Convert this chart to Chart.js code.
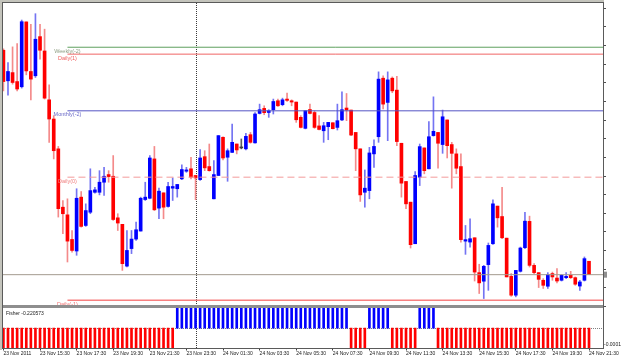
<!DOCTYPE html>
<html>
<head>
<meta charset="utf-8">
<script src="https://cdn.jsdelivr.net/npm/chart.js@4/dist/chart.umd.min.js"></script>
<style>
  html, body { margin: 0; padding: 0; background: #fff; }
</style>
</head>
<body>
<canvas id="chart" width="625" height="360"></canvas>
<script>
// 15 minute candles, 23 Nov 2011 13:30 -> 24 Nov 2011 21:30
const opens = [1.34775,1.34611,1.34655,1.34607,1.34579,1.34927,1.34661,1.34638,1.34848,1.34771,
  1.34509,1.34406,1.34246,1.33933,1.33892,1.33760,1.33698,1.33987,1.33835,1.33906,
  1.34013,1.34013,1.34067,1.34108,1.34099,1.33876,1.33841,1.33617,1.33711,1.33762,
  1.33805,1.33974,1.33981,1.34192,1.33928,1.34010,1.33937,1.34035,1.34032,1.34085,
  1.34126,1.34139,1.34103,1.34081,1.34204,1.34151,1.33978,1.34103,1.34308,1.34201,
  1.34227,1.34272,1.34251,1.34246,1.34322,1.34278,1.34436,1.34463,1.34441,1.34456,
  1.34504,1.34483,1.34513,1.34504,1.34497,1.34415,1.34356,1.34457,1.34441,1.34369,
  1.34343,1.34365,1.34386,1.34361,1.34401,1.34465,1.34454,1.34334,1.34246,1.34013,
  1.34022,1.34219,1.34311,1.34625,1.34495,1.34625,1.34561,1.34276,1.34071,1.33960,
  1.33737,1.34094,1.34251,1.34139,1.34317,1.34334,1.34269,1.34401,1.34269,1.34219,
  1.34151,1.33751,1.33746,1.33769,1.33582,1.33536,1.33625,1.33737,1.33939,1.33883,
  1.33767,1.33562,1.33461,1.33589,1.33716,1.33857,1.33621,1.33582,1.33541,1.33509,
  1.33577,1.33553,1.33541,1.33555,1.33568,1.33555,1.33510,1.33541,1.33643];
const highs = [1.34782,1.34709,1.34793,1.34811,1.34937,1.34927,1.34914,1.34971,1.34914,1.34888,
  1.34590,1.34424,1.34259,1.33969,1.33978,1.33808,1.34032,1.34017,1.33951,1.34139,
  1.34040,1.34129,1.34147,1.34129,1.34210,1.33898,1.33841,1.33808,1.33808,1.33853,
  1.33987,1.34067,1.34210,1.34259,1.34035,1.34010,1.34067,1.34090,1.34055,1.34160,
  1.34147,1.34201,1.34103,1.34242,1.34236,1.34272,1.34183,1.34317,1.34311,1.34246,
  1.34379,1.34272,1.34299,1.34329,1.34334,1.34441,1.34486,1.34477,1.34456,1.34513,
  1.34513,1.34518,1.34545,1.34509,1.34497,1.34424,1.34450,1.34486,1.34450,1.34424,
  1.34388,1.34388,1.34386,1.34486,1.34552,1.34543,1.34454,1.34334,1.34246,1.34133,
  1.34254,1.34294,1.34659,1.34638,1.34659,1.34632,1.34635,1.34276,1.34071,1.33960,
  1.34124,1.34272,1.34251,1.34392,1.34525,1.34334,1.34454,1.34401,1.34281,1.34246,
  1.34219,1.33835,1.33871,1.33769,1.33627,1.33621,1.33741,1.33973,1.33939,1.34040,
  1.33767,1.33577,1.33594,1.33719,1.33906,1.33885,1.33630,1.33582,1.33550,1.33582,
  1.33585,1.33604,1.33571,1.33582,1.33589,1.33559,1.33541,1.33666,1.33643];
const lows = [1.34557,1.34534,1.34593,1.34557,1.34572,1.34643,1.34508,1.34629,1.34727,1.34513,
  1.34281,1.34192,1.33880,1.33791,1.33639,1.33692,1.33675,1.33826,1.33830,1.33898,
  1.34008,1.33999,1.33996,1.34067,1.33862,1.33808,1.33594,1.33612,1.33684,1.33755,
  1.33805,1.33969,1.33978,1.33915,1.33871,1.33871,1.33933,1.33969,1.33987,1.34081,
  1.34120,1.34085,1.33973,1.34076,1.34129,1.34126,1.33978,1.34103,1.34187,1.34072,
  1.34226,1.34219,1.34246,1.34240,1.34276,1.34276,1.34433,1.34429,1.34415,1.34433,
  1.34473,1.34477,1.34500,1.34477,1.34388,1.34358,1.34353,1.34433,1.34356,1.34347,
  1.34281,1.34295,1.34353,1.34347,1.34397,1.34397,1.34317,1.34129,1.33964,1.33933,
  1.33978,1.34147,1.34281,1.34460,1.34290,1.34547,1.34263,1.33987,1.33925,1.33714,
  1.33737,1.34049,1.34112,1.34139,1.34314,1.34142,1.34222,1.34197,1.34035,1.34112,
  1.33746,1.33680,1.33719,1.33537,1.33470,1.33443,1.33487,1.33734,1.33826,1.33764,
  1.33559,1.33455,1.33452,1.33585,1.33711,1.33612,1.33577,1.33502,1.33497,1.33497,
  1.33541,1.33527,1.33537,1.33550,1.33550,1.33514,1.33487,1.33537,1.33571];
const closes = [1.34607,1.34661,1.34602,1.34567,1.34928,1.34664,1.34620,1.34834,1.34775,1.34518,
  1.34406,1.34236,1.33925,1.33898,1.33751,1.33701,1.33981,1.33830,1.33915,1.34022,
  1.34026,1.34067,1.34099,1.34097,1.33867,1.33848,1.33630,1.33701,1.33762,1.33812,
  1.33981,1.33987,1.34197,1.33919,1.34019,1.33933,1.34044,1.34044,1.34055,1.34135,
  1.34133,1.34094,1.34090,1.34197,1.34144,1.34129,1.34108,1.34317,1.34197,1.34236,
  1.34281,1.34240,1.34251,1.34313,1.34281,1.34433,1.34456,1.34440,1.34450,1.34500,
  1.34477,1.34509,1.34506,1.34497,1.34402,1.34361,1.34450,1.34436,1.34361,1.34350,
  1.34370,1.34388,1.34354,1.34397,1.34456,1.34454,1.34320,1.34246,1.33999,1.34035,
  1.34224,1.34259,1.34620,1.34486,1.34616,1.34557,1.34285,1.34062,1.33951,1.33732,
  1.34103,1.34258,1.34129,1.34311,1.34340,1.34276,1.34418,1.34263,1.34222,1.34142,
  1.33759,1.33759,1.33764,1.33585,1.33527,1.33616,1.33728,1.33951,1.33876,1.33769,
  1.33559,1.33461,1.33594,1.33714,1.33858,1.33621,1.33582,1.33546,1.33514,1.33571,
  1.33559,1.33537,1.33568,1.33562,1.33555,1.33520,1.33532,1.33657,1.33571];

// Fisher histogram (far outside the sub window range, so every bar is clipped)
const fisher = [-0.85,-0.92,-0.97,-1.04,-0.88,-0.79,-0.83,-0.71,-0.76,-0.95,
  -1.21,-1.48,-1.77,-2.03,-2.21,-2.34,-2.12,-1.96,-1.83,-1.61,
  -1.42,-1.23,-1.05,-0.98,-1.10,-1.19,-1.37,-1.28,-1.15,-0.99,
  -0.81,-0.66,-0.52,-0.47,-0.38,-0.29,-0.18,-0.07,
  0.06,0.17,0.29,0.41,0.50,0.62,0.71,0.85,0.93,1.02,
  1.14,1.22,1.35,1.41,1.52,1.63,1.77,1.86,1.94,2.05,
  2.11,2.02,1.91,1.84,1.76,1.69,1.55,1.43,1.31,1.20,
  1.12,1.03,0.91,0.78,0.64,0.49,0.31,0.12,
  -0.09,-0.27,-0.44,-0.21,
  0.05,0.22,0.48,0.61,0.39,
  -0.08,-0.31,-0.57,-0.83,-0.96,-0.42,
  0.04,0.19,0.33,0.15,
  -0.11,-0.18,-0.26,-0.35,-0.58,-0.79,-0.94,-1.16,-1.39,-1.55,
  -1.41,-1.27,-1.12,-1.23,-1.44,-1.62,-1.71,-1.58,-1.36,-1.29,
  -1.37,-1.45,-1.52,-1.48,-1.33,-1.21,-1.08,-0.97,-0.89,-0.81,
  -0.76,-0.69,-0.41,-0.220573];
const fisherTitle = "Fisher -0.220573";

const timeTickIndex = [0,8,16,24,32,40,48,56,64,72,80,88,96,104,112,120,128];
const timeTickLabels = ["23 Nov 2011","23 Nov 15:30","23 Nov 17:30","23 Nov 19:30","23 Nov 21:30",
  "23 Nov 23:30","24 Nov 01:30","24 Nov 03:30","24 Nov 05:30","24 Nov 07:30","24 Nov 09:30",
  "24 Nov 11:30","24 Nov 13:30","24 Nov 15:30","24 Nov 17:30","24 Nov 19:30","24 Nov 21:30"];
const priceTicks = [1.350,1.349,1.348,1.347,1.346,1.345,1.344,1.343,1.342,1.341,
  1.340,1.339,1.338,1.337,1.336,1.335,1.334];
const fisherTicks = [-0.0001];
const fisherTickLabels = ["-0.0001"];

// pivot levels drawn from 23 Nov 17:00 to the right edge
const levelNames = ["Weekly(-2)", "Daily(1)", "Monthly(-2)", "Daily(0)", "Daily(-1)"];
const levelValues = [1.34791, 1.34754, 1.34450, 1.34094, 1.33434];
const levelColors = ["#5ea05e", "#f06464", "#5555c4", "#f39a9a", "#f78080"];
const levelTextColors = ["#8c9c80", "#f06060", "#6a6ac8", "#f08080", "#f07070"];
const levelStart = 14;
const daySeparator = 42;   // 24 Nov 00:00

const xMin = -0.09, xMax = 131.06;
const idx = opens.map((_, i) => i);

const bodyColors = idx.map(i => closes[i] > opens[i] ? "#0000ff" : closes[i] < opens[i] ? "#ff0000" : "#404040");
const wickColors = idx.map(i => closes[i] > opens[i] ? "#7474f2" : closes[i] < opens[i] ? "#f48a8a" : "#606060");
const fisherColors = fisher.map(v => v >= 0 ? "#0000ff" : "#ff0000");

const levelSets = levelValues.map((v, k) => ({
  type: "line",
  data: [{x: levelStart, y: v}, {x: xMax, y: v}],
  borderColor: levelColors[k],
  borderWidth: k === 4 ? 1.6 : 1,
  borderDash: k === 3 ? [7, 4] : [],
  pointRadius: 0,
  yAxisID: "y",
  order: 0
}));

const lastClose = closes[closes.length - 1];

const paneDecor = {
  id: "paneDecor",
  beforeDraw(chart) {
    const ctx = chart.ctx;
    ctx.save();
    ctx.fillStyle = "#ffffff";
    ctx.fillRect(0, 0, chart.width, chart.height);
    ctx.restore();
  },
  beforeDatasetsDraw(chart) {
    const {ctx, scales} = chart;
    const px = Math.round(scales.x.getPixelForValue(daySeparator)) + 0.5;
    ctx.save();
    ctx.strokeStyle = "#3a3a3a";
    ctx.lineWidth = 1;
    ctx.setLineDash([1, 1]);
    ctx.beginPath();
    ctx.moveTo(px, 3);
    ctx.lineTo(px, 348);
    ctx.stroke();
    // zero level of the sub window
    const zy = Math.round(scales.yF.getPixelForValue(0)) + 0.5;
    ctx.strokeStyle = "#808080";
    ctx.beginPath();
    ctx.moveTo(chart.chartArea.left, zy);
    ctx.lineTo(chart.chartArea.right, zy);
    ctx.stroke();
    ctx.restore();
  },
  afterDraw(chart) {
    const {ctx, scales, chartArea} = chart;
    ctx.save();
    // level captions
    ctx.font = "5.5px 'Liberation Sans'";
    ctx.textAlign = "center";
    ctx.textBaseline = "middle";
    const lx = scales.x.getPixelForValue(levelStart);
    levelNames.forEach((name, k) => {
      ctx.fillStyle = levelTextColors[k];
      ctx.fillText(name, lx, scales.y.getPixelForValue(levelValues[k]) + 4);
    });
    // window borders
    ctx.fillStyle = "#c4c4bc";
    ctx.fillRect(0, 0, 604, 2);
    ctx.fillRect(0, 0, 2, 350);
    ctx.fillStyle = "#8e8e8e";
    ctx.fillRect(2, 305, 602, 3);
    ctx.strokeStyle = "#5a5a5a";
    ctx.lineWidth = 1;
    ctx.beginPath();
    ctx.moveTo(2, 2.5); ctx.lineTo(604, 2.5);
    ctx.moveTo(2.5, 2); ctx.lineTo(2.5, 349);
    ctx.moveTo(603.5, 2); ctx.lineTo(603.5, 349);
    ctx.moveTo(2, 348.5); ctx.lineTo(604, 348.5);
    ctx.stroke();
    // bid marker
    const by = scales.y.getPixelForValue(lastClose);
    ctx.fillStyle = "#909090";
    ctx.fillRect(604, by - 3, 3, 6);
    // sub window title
    ctx.font = "5px 'Liberation Sans'";
    ctx.textAlign = "left";
    ctx.fillStyle = "#202020";
    ctx.fillText(fisherTitle, 6, 314);
    ctx.restore();
  }
};

new Chart(document.getElementById("chart"), {
  type: "bar",
  data: {
    datasets: [
      ...levelSets,
      {
        type: "line",
        data: [{x: xMin, y: lastClose}, {x: xMax, y: lastClose}],
        borderColor: "#a39a8e",
        borderWidth: 1,
        pointRadius: 0,
        yAxisID: "y",
        order: 1
      },
      {
        data: idx.map(i => ({x: i, y: [opens[i], closes[i]]})),
        backgroundColor: bodyColors,
        barThickness: 3,
        minBarLength: 1,
        grouped: false,
        yAxisID: "y",
        order: 2
      },
      {
        data: idx.map(i => ({x: i, y: [lows[i], highs[i]]})),
        backgroundColor: wickColors,
        barThickness: 1,
        grouped: false,
        yAxisID: "y",
        order: 3
      },
      {
        data: idx.map(i => ({x: i, y: fisher[i]})),
        backgroundColor: fisherColors,
        barThickness: 2,
        grouped: false,
        yAxisID: "yF",
        order: 3
      }
    ]
  },
  options: {
    responsive: false,
    animation: false,
    devicePixelRatio: 1,
    events: [],
    layout: { padding: { left: 3, top: 3, right: 0, bottom: 0 } },
    plugins: { legend: { display: false }, tooltip: { enabled: false } },
    scales: {
      x: {
        type: "linear",
        min: xMin,
        max: xMax,
        offset: false,
        afterBuildTicks: s => { s.ticks = timeTickIndex.map(v => ({value: v})); },
        afterFit: s => { s.height = 11.5; },
        grid: { drawOnChartArea: false, drawTicks: true, tickLength: 2, color: "#404040", offset: false },
        border: { display: false },
        ticks: {
          autoSkip: false, maxRotation: 0, align: "start", padding: 0,
          font: { family: "Liberation Sans", size: 5 }, color: "#202020",
          callback: (v, i) => timeTickLabels[i]
        }
      },
      y: {
        type: "linear",
        position: "right",
        stack: "panes",
        stackWeight: 304,
        min: 1.33397,
        max: 1.35023,
        afterBuildTicks: s => { s.ticks = priceTicks.map(v => ({value: v})); },
        afterFit: s => { s.width = 22; },
        grid: { drawOnChartArea: false, drawTicks: true, tickLength: 3, color: "#505050" },
        border: { display: false },
        ticks: { display: false }
      },
      yF: {
        type: "linear",
        position: "right",
        stack: "panes",
        stackWeight: 41.5,
        min: -0.000121,
        max: 0.000124,
        afterBuildTicks: s => { s.ticks = fisherTicks.map(v => ({value: v})); },
        afterFit: s => { s.width = 22; },
        grid: { drawOnChartArea: false, drawTicks: false },
        border: { display: false },
        ticks: {
          padding: 1,
          font: { family: "Liberation Sans", size: 5 }, color: "#202020",
          callback: (v, i) => fisherTickLabels[i]
        }
      }
    }
  },
  plugins: [paneDecor]
});
</script>
</body>
</html>
